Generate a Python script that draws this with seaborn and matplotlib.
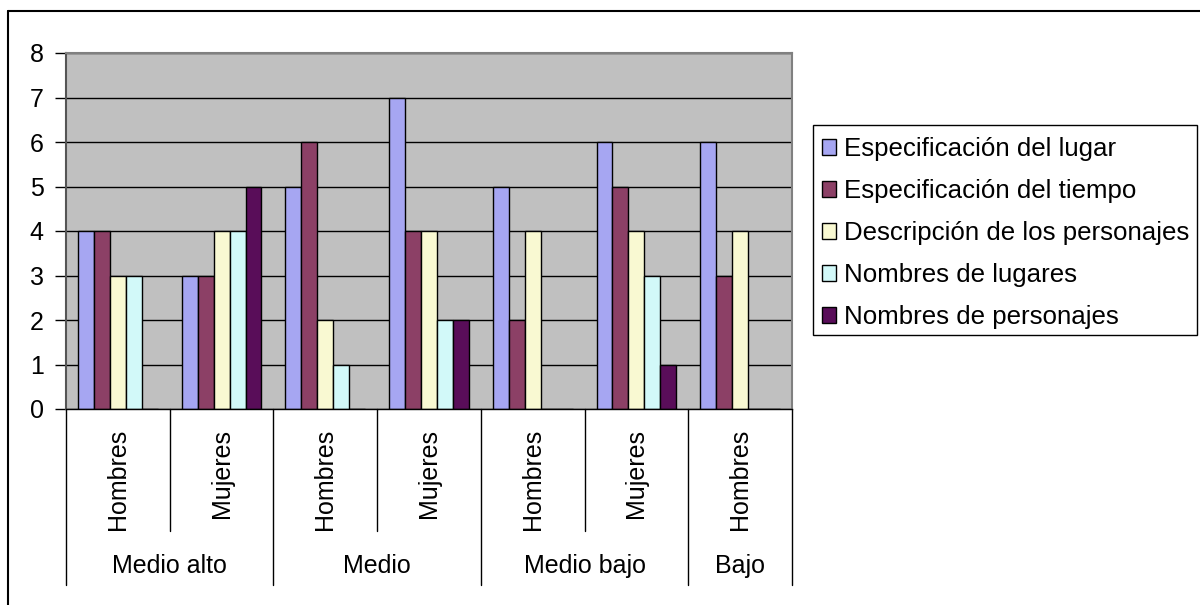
import matplotlib
matplotlib.use("Agg")
import matplotlib.pyplot as plt
from matplotlib.lines import Line2D
from matplotlib.patches import Rectangle
import numpy as np
import pandas as pd
import seaborn as sns

# datos
grupos = ['Medio alto', 'Medio', 'Medio bajo', 'Bajo']
sub_por_grupo = [['Hombres', 'Mujeres'], ['Hombres', 'Mujeres'], ['Hombres', 'Mujeres'], ['Hombres']]
series = ['Especificación del lugar', 'Especificación del tiempo',
          'Descripción de los personajes', 'Nombres de lugares', 'Nombres de personajes']

lugar = [4, 3, 5, 7, 5, 6, 6]
tiempo = [4, 3, 6, 4, 2, 5, 3]
descripcion = [3, 4, 2, 4, 4, 4, 4]
nombres_lugares = [3, 4, 1, 2, 0, 3, 0]
nombres_personajes = [0, 5, 0, 2, 0, 1, 0]

colores = ['#9999FF', '#993366', '#FFFFCC', '#CCFFFF', '#660066']

cats = []
for g, subs in zip(grupos, sub_por_grupo):
    for s in subs:
        cats.append(g + '|' + s)

rows = []
for serie, vals in zip(series, [lugar, tiempo, descripcion, nombres_lugares, nombres_personajes]):
    for c, v in zip(cats, vals):
        rows.append({'cat': c, 'serie': serie, 'valor': v})
df = pd.DataFrame(rows)

sns.set_style('white')
plt.rcParams['font.family'] = ['Liberation Sans', 'DejaVu Sans']
plt.rcParams['text.color'] = 'black'
plt.rcParams['ytick.color'] = 'black'
plt.rcParams['ytick.labelcolor'] = 'black'
fs = 18

fig = plt.figure(figsize=(12, 6.05), dpi=100)
ax = fig.add_axes([66/1200, 1 - 409/605, 726/1200, 356/605])
ax.set_facecolor('#C0C0C0')

sns.barplot(data=df, x='cat', y='valor', hue='serie', order=cats, hue_order=series,
            palette=colores, edgecolor='black', linewidth=1, width=5/6.5,
            gap=0, ax=ax, legend=True)

ax.set_ylim(0, 8)
ax.set_xlim(-0.5, len(cats) - 0.5)
ax.set_yticks(range(0, 9))
ax.yaxis.grid(True, color='black', linewidth=1)
ax.set_axisbelow(True)
ax.tick_params(axis='y', labelsize=fs, length=8, width=1, direction='out', left=True, pad=8,
               colors='black')
ax.set_xticks([])
ax.set_xlabel('')
ax.set_ylabel('')
for sp in ['top', 'right']:
    ax.spines[sp].set_color('#808080')
    ax.spines[sp].set_linewidth(1.5)
ax.spines['left'].set_color('#555555')
ax.spines['left'].set_linewidth(1.5)
ax.spines['bottom'].set_color('black')
ax.spines['bottom'].set_linewidth(1)

# etiquetas de varios niveles
tr = ax.get_xaxis_transform()
y_sub = (409 - 531) / 356
y_grp = (409 - 585) / 356
i = 0
edges = [-0.5]
for g, subs in zip(grupos, sub_por_grupo):
    start = i
    for s in subs:
        ax.text(i, -(429 - 409) / 356, s, rotation=90, ha='center', va='top', fontsize=fs,
                transform=tr, color='black')
        if s != subs[-1]:
            ax.add_line(Line2D([i + 0.5, i + 0.5], [0, y_sub], transform=tr, color='black',
                               linewidth=1, clip_on=False))
        i += 1
    ax.text((start + i - 1) / 2, (409 - 566) / 356, g, ha='center', va='center', fontsize=fs,
            transform=tr, color='black')
    edges.append(i - 0.5)
for e in edges:
    ax.add_line(Line2D([e, e], [0, y_grp], transform=tr, color='black', linewidth=1, clip_on=False))

# leyenda (marco dibujado aparte)
handles, labels = ax.get_legend_handles_labels()
ax.get_legend().remove()
leg = fig.legend(handles, labels, loc='upper left', bbox_to_anchor=(822/1200, 1 - 137/605),
                 frameon=False, fontsize=18.6,
                 handlelength=0.55, handleheight=0.55, handletextpad=0.3,
                 labelspacing=0.7, borderpad=0, borderaxespad=0)
fig.add_artist(Rectangle((813/1200, 1 - 335/605), (1197 - 813)/1200, 210/605,
                         transform=fig.transFigure, fill=False, edgecolor='black', linewidth=1))

# borde exterior del grafico
fig.add_artist(Line2D([8/1200, 8/1200], [0, 1 - 11/605], transform=fig.transFigure,
                      color='black', linewidth=1.5))
fig.add_artist(Line2D([8/1200, 1], [1 - 11/605, 1 - 11/605], transform=fig.transFigure,
                      color='black', linewidth=1.5))

fig.savefig('out.png', dpi=100, facecolor='white')
